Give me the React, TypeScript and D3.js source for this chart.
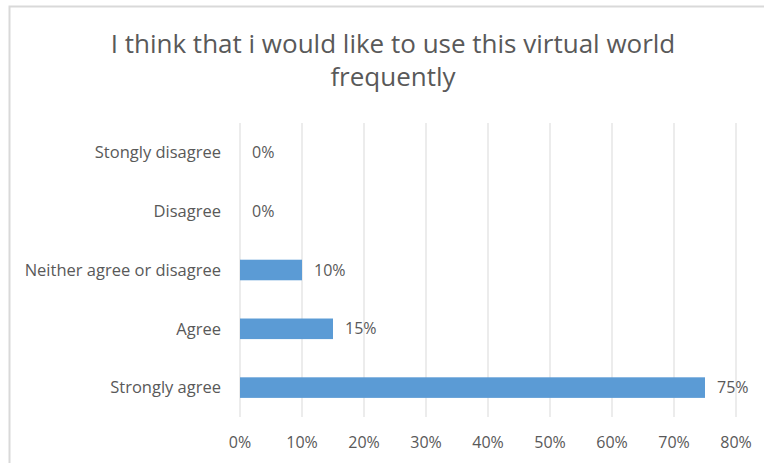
import React from "react";
import * as d3 from "d3";

const categories = ["Stongly disagree", "Disagree", "Neither agree or disagree", "Agree", "Strongly agree"];
const values = [0, 0, 10, 15, 75];
const xTicks = [0, 10, 20, 30, 40, 50, 60, 70, 80];
const titleLines = ["I think that i would like to use this virtual world", "frequently"];

const W = 764;
const H = 463;
const FONT = "'Open Sans', 'Liberation Sans', sans-serif";
const TEXT = "#595959";

export default function App() {
  const x = d3.scaleLinear().domain([0, 80]).range([240, 736]);
  const y = d3.scaleBand<string>().domain(categories).range([123, 417]).paddingInner(0.65).paddingOuter(0.325);

  return (
    <svg width={W} height={H} style={{ position: "fixed", left: 0, top: 0, background: "#fff" }} fontFamily={FONT}>
      <rect x={0} y={0} width={W} height={H} fill="#fff" />
      {/* chart frame */}
      <path d={`M9.5,${H} V6.5 H${W}`} fill="none" stroke="#d9d9d9" strokeWidth={2} />
      {/* title */}
      {titleLines.map((t, i) => (
        <text key={i} x={393} y={53 + i * 33} textAnchor="middle" fontSize={26} fill={TEXT}>
          {t}
        </text>
      ))}
      {/* gridlines */}
      {xTicks.map((t) => (
        <line key={t} x1={x(t)} x2={x(t)} y1={123} y2={417} stroke="#d9d9d9" strokeWidth={1} />
      ))}
      {/* x tick labels */}
      {xTicks.map((t) => (
        <text key={"l" + t} x={x(t)} y={448} textAnchor="middle" fontSize={16} fill={TEXT}>
          {t}%
        </text>
      ))}
      {/* bars */}
      {categories.map((c, i) => (
        <g key={c}>
          <text x={221} y={y(c)! + y.bandwidth() / 2} dy="0.35em" textAnchor="end" fontSize={16.5} fill={TEXT}>
            {c}
          </text>
          {values[i] > 0 && (
            <rect x={x(0)} y={y(c)!} width={x(values[i]) - x(0)} height={y.bandwidth()} fill="#5b9bd5" />
          )}
          <text x={x(values[i]) + 12} y={y(c)! + y.bandwidth() / 2} dy="0.35em" fontSize={16} fill={TEXT}>
            {values[i]}%
          </text>
        </g>
      ))}
    </svg>
  );
}
